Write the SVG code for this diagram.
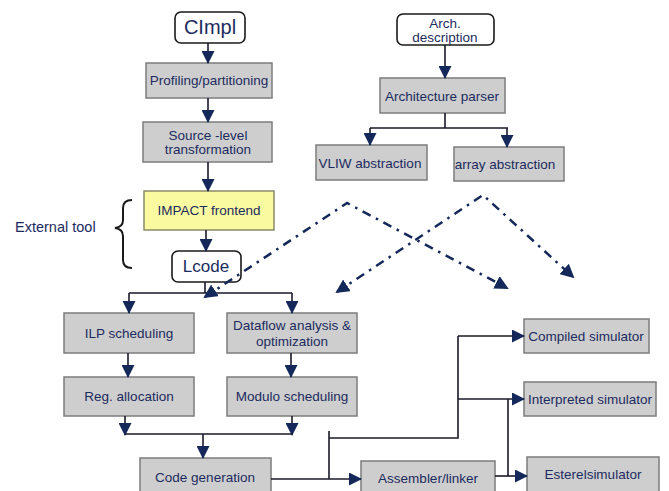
<svg xmlns="http://www.w3.org/2000/svg" width="669" height="491" viewBox="0 0 669 491">
<defs>
<marker id="ah" markerWidth="13" markerHeight="13" refX="12" refY="6.5" orient="auto" markerUnits="userSpaceOnUse">
<path d="M0,0 L13,6.5 L0,13 Z" fill="#14285a"/>
</marker>
<marker id="dh" markerWidth="14" markerHeight="14" refX="12" refY="7" orient="auto" markerUnits="userSpaceOnUse">
<path d="M0,0 L14,7 L0,14 Z" fill="#14285a"/>
</marker>
<marker id="dhs" markerWidth="14" markerHeight="14" refX="2" refY="7" orient="auto" markerUnits="userSpaceOnUse">
<path d="M14,0 L0,7 L14,14 Z" fill="#14285a"/>
</marker>
</defs>
<style>
.box{fill:#cecece;stroke:#7c7c7c;stroke-width:1.5}
.yel{fill:#fafaa0;stroke:#8a8a6a;stroke-width:1.5}
.rnd{fill:#ffffff;stroke:#1a1a1a;stroke-width:1.6}
.t{font-family:"Liberation Sans",Arial,sans-serif;font-size:13.5px;fill:#1c2b5e;text-anchor:middle}
.c{fill:none;stroke:#1a1a2a;stroke-width:1.6}
.a{fill:none;stroke:#1a1a2a;stroke-width:1.6;marker-end:url(#ah)}
.d{fill:none;stroke:#14285a;stroke-width:2.5;stroke-dasharray:9 6 2.5 6;marker-end:url(#dh);marker-start:url(#dhs)}
</style>

<g id="cimpl"><rect class="rnd" x="175" y="12" width="70" height="31" rx="6"/><text class="t" x="210" y="34" style="font-size:20px">CImpl</text></g>
<g id="profiling"><rect class="box" x="146" y="63" width="126" height="35"/><text class="t" x="209" y="85">Profiling/partitioning</text></g>
<g id="source"><rect class="box" x="143" y="122" width="129" height="40"/><text class="t" x="208" y="140">Source -level</text><text class="t" x="208" y="154">transformation</text></g>
<g id="impact"><rect class="yel" x="144" y="191" width="130" height="39"/><text class="t" x="209" y="215">IMPACT frontend</text></g>
<g id="lcode"><rect class="rnd" x="172" y="251" width="69" height="31" rx="6"/><text class="t" x="206" y="272" style="font-size:17px">Lcode</text></g>
<g id="external"><text class="t" x="15" y="232" style="text-anchor:start;font-size:14.5px">External tool</text>
<path d="M132,200 Q123,200 123,208 L123,220 Q123,227 115,228 Q123,229 123,236 L123,260 Q123,268 132,268" fill="none" stroke="#1a1a1a" stroke-width="2"/></g>
<g id="arch"><rect class="rnd" x="397" y="14" width="97" height="31" rx="6"/><text class="t" x="445" y="28">Arch.</text><text class="t" x="445" y="42">description</text></g>
<g id="parser"><rect class="box" x="380" y="78" width="125" height="35"/><text class="t" x="442" y="101">Architecture parser</text></g>
<g id="vliw"><rect class="box" x="316" y="145" width="111" height="35"/><text class="t" x="370" y="168">VLIW abstraction</text></g>
<g id="array"><rect class="box" x="454" y="147" width="110" height="34"/><text class="t" x="505" y="169">array abstraction</text></g>
<g id="ilp"><rect class="box" x="64" y="313" width="130" height="40"/><text class="t" x="129" y="338">ILP scheduling</text></g>
<g id="dataflow"><rect class="box" x="227" y="313" width="130" height="40"/><text class="t" x="292" y="330">Dataflow analysis &amp;</text><text class="t" x="292" y="346">optimization</text></g>
<g id="reg"><rect class="box" x="64" y="377" width="130" height="39"/><text class="t" x="129" y="401">Reg. allocation</text></g>
<g id="modulo"><rect class="box" x="227" y="377" width="130" height="39"/><text class="t" x="292" y="401">Modulo scheduling</text></g>
<g id="codegen"><rect class="box" x="140" y="458" width="131" height="40"/><text class="t" x="205" y="482">Code generation</text></g>
<g id="asm"><rect class="box" x="361" y="461" width="134" height="37"/><text class="t" x="428" y="483">Assembler/linker</text></g>
<g id="compiled"><rect class="box" x="524" y="319" width="125" height="34"/><text class="t" x="586" y="341">Compiled simulator</text></g>
<g id="interp"><rect class="box" x="524" y="382" width="132" height="34"/><text class="t" x="590" y="404">Interpreted simulator</text></g>
<g id="esterel"><rect class="box" x="527" y="457" width="132" height="41"/><text class="t" x="593" y="479">Esterelsimulator</text></g>

<g id="connectors">
<path class="a" d="M208,43 L208,63"/>
<path class="a" d="M208,98 L208,122"/>
<path class="a" d="M208,162 L208,191"/>
<path class="a" d="M206,230 L206,251"/>
<path class="c" d="M205,282 L205,293 M129,293 L292,293"/>
<path class="a" d="M129,293 L129,313"/>
<path class="a" d="M292,293 L292,313"/>
<path class="a" d="M128,353 L128,377"/>
<path class="a" d="M291,353 L291,377"/>
<path class="a" d="M125,416 L125,435"/>
<path class="a" d="M292,416 L292,435"/>
<path class="c" d="M125,434 L292,434"/>
<path class="a" d="M203,434 L203,458"/>
<path class="a" d="M445,45 L445,78"/>
<path class="c" d="M445,113 L445,128 M370,128 L508,128"/>
<path class="a" d="M370,128 L370,145"/>
<path class="a" d="M507,128 L507,147"/>
<path class="a" d="M271,479 L361,479"/>
<path class="c" d="M329,479 L329,431 M329,438 L458,438 L458,336"/>
<path class="a" d="M458,336 L524,336"/>
<path class="a" d="M458,399 L524,399"/>
<path class="a" d="M495,476 L527,476"/>
<path class="c" d="M508,399 L508,476"/>
<path class="d" d="M205,297 L347,203 L507,288"/>
<path class="d" d="M337,292 L483,195 L573,277"/>
</g>
</svg>
